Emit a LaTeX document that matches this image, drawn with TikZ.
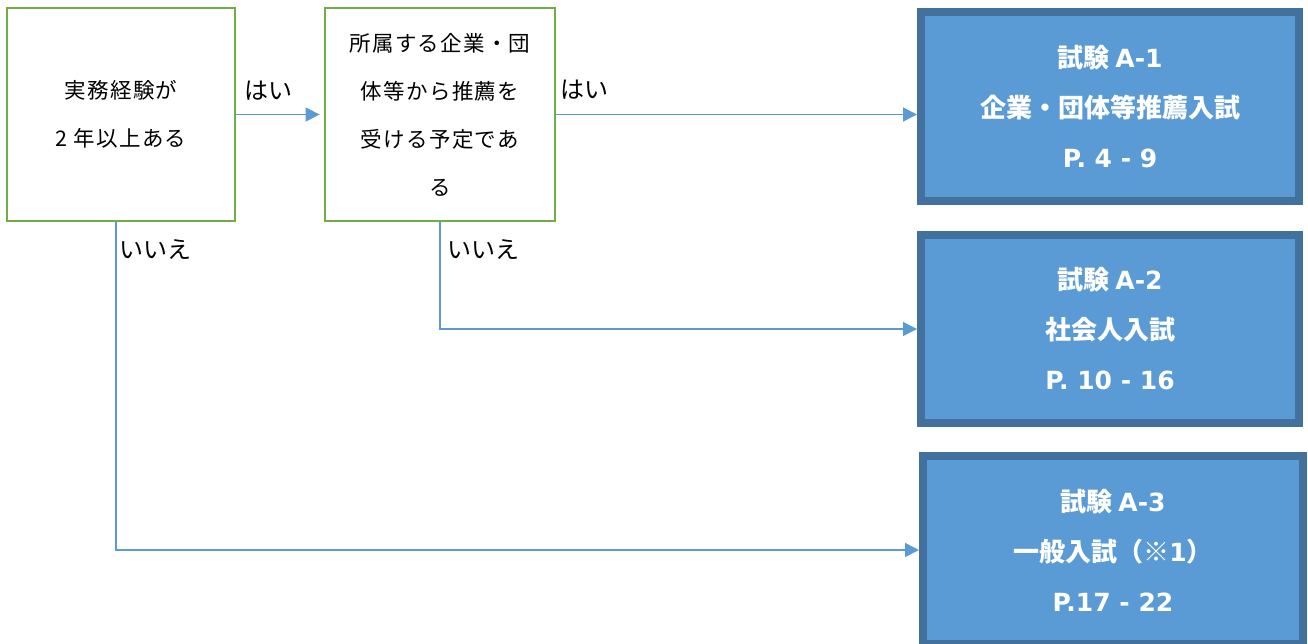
\documentclass[tikz,border=0pt]{standalone}
\usepackage{fontspec}
\setmainfont{Noto Sans CJK JP}
\newfontfamily\jpbody[LetterSpace=6]{Noto Sans CJK JP}
\newfontfamily\latb{DejaVu Sans}
\newcommand{\lt}[1]{{\latb\bfseries\fontsize{25}{50}\selectfont #1}}
\usetikzlibrary{arrows.meta}
\definecolor{grn}{HTML}{70AD47}
\definecolor{bfill}{HTML}{5B9BD5}
\definecolor{bdraw}{HTML}{41719C}
\definecolor{lnc}{HTML}{5B9BD5}
\begin{document}
\begin{tikzpicture}[x=1pt,y=-1pt,
 qbox/.style={draw=grn,line width=2.8pt,fill=white,inner sep=0pt,align=center,font=\jpbody\fontsize{21.5}{48}\selectfont},
 ebox/.style={draw=bdraw,fill=bfill,line width=8pt,inner sep=0pt,align=center,text=white,font=\bfseries\fontsize{26}{50}\selectfont},
 lbl/.style={font=\fontsize{24}{26}\selectfont,inner sep=0pt},
 arr/.style={draw=lnc,line width=1.5pt,-{Triangle[length=14pt,width=14pt]}}]
\useasboundingbox (0,0) rectangle (1308,643);
\node[qbox,minimum width=228pt,minimum height=213pt] (b1) at (121,114.5) {実務経験が\\2 年以上ある};
\node[qbox,minimum width=230pt,minimum height=213pt] (b2) at (440,114.5) {所属する企業・団\\体等から推薦を\\受ける予定であ\\る};
\node[ebox,minimum width=378pt,minimum height=189pt] (a1) at (1110,106.5) {試験 \lt{A-1}\\企業・団体等推薦入試\\\lt{P. 4 - 9}};
\node[ebox,minimum width=378pt,minimum height=188pt] (a2) at (1110,329) {試験 \lt{A-2}\\社会人入試\\\lt{P. 10 - 16}};
\node[ebox,minimum width=380pt,minimum height=188pt] (a3) at (1113,550) {試験 \lt{A-3}\\一般入試（※\lt{1}）\\\lt{P.17 - 22}};
\draw[arr,shorten >=4pt] (b1.east) -- (b2.west);
\draw[arr] (b2.east) -- (b2.east -| a1.west);
\draw[arr] (b2.south) |- (a2.west);
\coordinate (b1s) at ([xshift=-5pt]b1.south);
\draw[arr] (b1s) |- (a3.west);
\node[lbl] (l1) at (268,91) {はい};
\node[lbl] (l2) at (584,90) {はい};
\node[lbl] (l3) at (155,250) {いいえ};
\node[lbl] (l4) at (483,250) {いいえ};
\end{tikzpicture}
\end{document}
